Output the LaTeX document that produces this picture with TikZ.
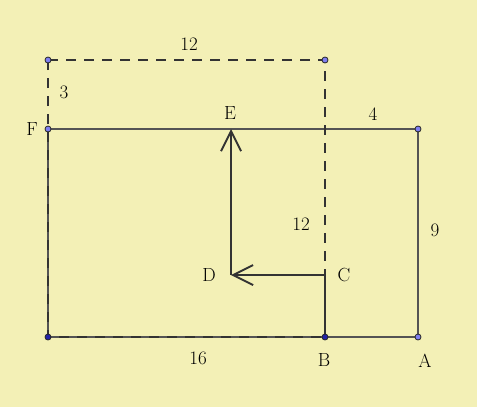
\documentclass[tikz,border=0pt]{standalone}
\usetikzlibrary{arrows.meta}
\definecolor{paper}{HTML}{F3F0B6}
\definecolor{edge}{HTML}{545454}
\definecolor{walk}{HTML}{333333}
\definecolor{dotfill}{HTML}{7F7FF0}
\definecolor{dotdark}{HTML}{2323A8}
\tikzset{
  side/.style={draw=edge, line width=1.8pt},
  guide/.style={draw=walk, line width=1.5pt, dash pattern=on 10pt off 8pt},
  walkline/.style={draw=walk, line width=2.6pt, -{Straight Barb[length=20pt,width=20pt,line width=1.9pt]}},
  dot/.style={circle, draw=black!85, fill=dotfill, line width=0.8pt, inner sep=0pt, minimum size=6pt},
  darkdot/.style={dot, fill=dotdark},
  lab/.style={font=\fontsize{19}{22}\selectfont}
}
\begin{document}
\begin{tikzpicture}[x=1pt,y=-1pt]
		\fill[paper] (0,0) rectangle (477,407);
		\useasboundingbox (0,0) rectangle (477,407);
		\coordinate (P) at (48,60);
		\coordinate (Q) at (325,60);
		\coordinate (F) at (48,129);
		\coordinate (R) at (418,129);
		\coordinate (A) at (418,337);
		\coordinate (B) at (325,337);
		\coordinate (O) at (48,337);
		\coordinate (C) at (325,275);
		\coordinate (D) at (231,275);
		\coordinate (E) at (231,129);
		\draw[side] (F) -- (R) -- (A) -- (O) -- cycle;
		\draw[guide] (P) -- (Q) -- (B) -- (O) -- cycle;
		\draw[walkline] (B) -- (C) -- (D);
		\draw[walkline] (D) -- (E);
		\node[dot] (dP) at (P) {};
		\node[dot] (dQ) at (Q) {};
		\node[dot] (dF) at (F) {};
		\node[dot] (dR) at (R) {};
		\node[dot] (dA) at (A) {};
		\node[darkdot] (dB) at (B) {};
		\node[darkdot] (dO) at (O) {};
		\node[lab] (l12a) at (189,44) {12};
		\node[lab] (l3) at (64,92) {3};
		\node[lab] (lF) at (32,129) {F};
		\node[lab] (lE) at (230,113) {E};
		\node[lab] (l4) at (373,114) {4};
		\node[lab] (l12b) at (301,224) {12};
		\node[lab] (l9) at (435,230) {9};
		\node[lab] (lD) at (209,275) {D};
		\node[lab] (lC) at (344,275) {C};
		\node[lab] (l16) at (198,358) {16};
		\node[lab] (lB) at (324,360) {B};
		\node[lab] (lA) at (425,361) {A};
\end{tikzpicture}
\end{document}
